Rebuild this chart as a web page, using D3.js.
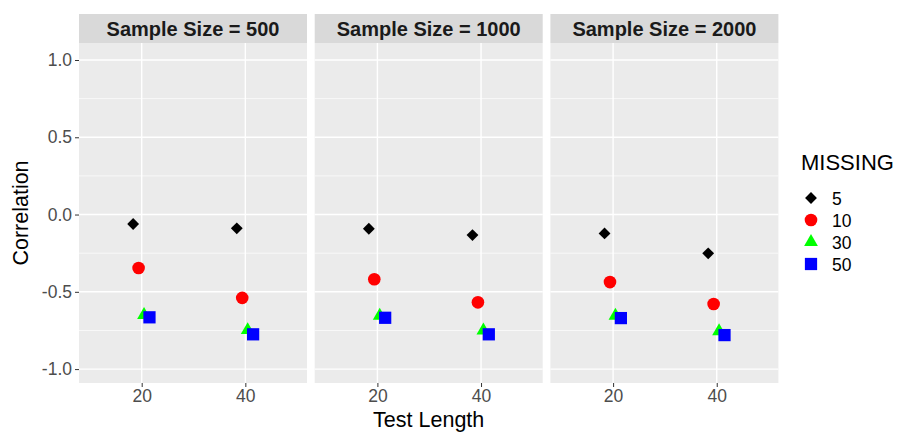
<!DOCTYPE html>
<html>
<head>
<meta charset="utf-8">
<script src="https://cdn.jsdelivr.net/npm/d3@7"></script>
<style>
  html, body { margin: 0; padding: 0; background: #ffffff; }
  svg { display: block; }
  text { font-family: "Liberation Sans", Arial, sans-serif; }
</style>
</head>
<body>
<svg id="chart" width="897" height="433"></svg>
<script>
// ---- data ----
const sampleSizes = [500, 1000, 2000];
const testLengths = [20, 40];
const missingLevels = ["5", "10", "30", "50"];
// values ordered: (500,20), (500,40), (1000,20), (1000,40), (2000,20), (2000,40)
const missing5  = [-0.061, -0.089, -0.092, -0.133, -0.122, -0.251];
const missing10 = [-0.346, -0.539, -0.419, -0.568, -0.437, -0.579];
const missing30 = [-0.650, -0.748, -0.655, -0.750, -0.655, -0.755];
const missing50 = [-0.665, -0.775, -0.668, -0.775, -0.670, -0.780];
const yTicks = [-1.0, -0.5, 0.0, 0.5, 1.0];
const yMinor = [-0.75, -0.25, 0.25, 0.75];
const xTicks = [20, 40];

const seriesValues = [missing5, missing10, missing30, missing50];
const colors = ["#000000", "#ff0000", "#00ff00", "#0000ff"];

// build rows
const rows = [];
missingLevels.forEach((m, si) => {
  sampleSizes.forEach((s, pi) => {
    testLengths.forEach((t, ti) => {
      rows.push({ miss: m, si, sample: s, test: t, value: seriesValues[si][pi * testLengths.length + ti] });
    });
  });
});

// ---- layout ----
const svg = d3.select("#chart");
const panelLeft0 = 79, panelWidth = 228, panelGap = 7.7;
const stripTop = 14, stripH = 29;
const panelTop = stripTop + stripH, panelBottom = 383;

const y = d3.scaleLinear().domain([-1.09, 1.11]).range([panelBottom, panelTop]);
const x = d3.scaleLinear().domain([7.9, 51.9]).range([0, panelWidth]);
const dodge = d3.scalePoint().domain(missingLevels).range([-1.65, 1.5]);

const symbolGen = {
  "5": d3.symbol().type(d3.symbolSquare).size(70),
  "10": d3.symbol().type(d3.symbolCircle).size(125),
  "30": d3.symbol().type(d3.symbolTriangle).size(82),
  "50": d3.symbol().type(d3.symbolSquare).size(150)
};
const rot = { "5": 45, "10": 0, "30": 0, "50": 0 };
const fmtY = d => d3.format(".1f")(d).replace("\u2212", "-");

sampleSizes.forEach((s, pi) => {
  const px = panelLeft0 + pi * (panelWidth + panelGap);
  const g = svg.append("g").attr("transform", `translate(${px},0)`);

  // strip
  g.append("rect").attr("x", 0).attr("y", stripTop).attr("width", panelWidth).attr("height", stripH)
    .attr("fill", "#d9d9d9");
  g.append("text").attr("x", panelWidth / 2).attr("y", stripTop + stripH / 2 + 7)
    .attr("text-anchor", "middle").attr("font-size", 20).attr("font-weight", "bold")
    .attr("fill", "#1a1a1a").text(`Sample Size = ${s}`);

  // panel background
  g.append("rect").attr("x", 0).attr("y", panelTop).attr("width", panelWidth)
    .attr("height", panelBottom - panelTop).attr("fill", "#ebebeb");

  // grid
  g.selectAll(".ymin").data(yMinor).join("line")
    .attr("x1", 0).attr("x2", panelWidth).attr("y1", d => y(d)).attr("y2", d => y(d))
    .attr("stroke", "#ffffff").attr("stroke-width", 0.7);
  g.selectAll(".ymaj").data(yTicks).join("line")
    .attr("x1", 0).attr("x2", panelWidth).attr("y1", d => y(d)).attr("y2", d => y(d))
    .attr("stroke", "#ffffff").attr("stroke-width", 1.4);
  g.selectAll(".xmaj").data(xTicks).join("line")
    .attr("x1", d => x(d)).attr("x2", d => x(d)).attr("y1", panelTop).attr("y2", panelBottom)
    .attr("stroke", "#ffffff").attr("stroke-width", 1.4);

  // x axis
  const xAxis = d3.axisBottom(x).tickValues(xTicks).tickSize(4).tickPadding(3).tickFormat(d3.format("d"));
  const xg = g.append("g").attr("transform", `translate(0,${panelBottom})`).call(xAxis);
  xg.select(".domain").remove();
  xg.selectAll(".tick line").attr("stroke", "#333333").attr("stroke-width", 1);
  xg.selectAll(".tick text").attr("font-size", 17.5).attr("fill", "#4d4d4d")
    .attr("font-family", "Liberation Sans, Arial, sans-serif");

  // y axis on first panel
  if (pi === 0) {
    const yAxis = d3.axisLeft(y).tickValues(yTicks).tickSize(4).tickPadding(3).tickFormat(fmtY);
    const yg = g.append("g").call(yAxis);
    yg.select(".domain").remove();
    yg.selectAll(".tick line").attr("stroke", "#333333").attr("stroke-width", 1);
    yg.selectAll(".tick text").attr("font-size", 17.5).attr("fill", "#4d4d4d")
      .attr("font-family", "Liberation Sans, Arial, sans-serif");
  }

  // points
  missingLevels.forEach((m, si) => {
    g.selectAll(null).data(rows.filter(r => r.sample === s && r.miss === m)).join("path")
      .attr("d", symbolGen[m]())
      .attr("transform", d => `translate(${x(d.test + dodge(d.miss))},${y(d.value)}) rotate(${rot[m]})`)
      .attr("fill", colors[si]);
  });
});

// axis titles
const plotCenterX = (panelLeft0 + panelLeft0 + 3 * panelWidth + 2 * panelGap) / 2;
svg.append("text").attr("x", plotCenterX).attr("y", 427).attr("text-anchor", "middle")
  .attr("font-size", 21.5).attr("fill", "#000").text("Test Length");
svg.append("text").attr("transform", `translate(28,${(panelTop + panelBottom) / 2}) rotate(-90)`)
  .attr("text-anchor", "middle").attr("font-size", 21.5).attr("fill", "#000").text("Correlation");

// legend
const lg = svg.append("g").attr("transform", "translate(801,0)");
lg.append("text").attr("x", 0).attr("y", 170).attr("font-size", 22).attr("fill", "#000").text("MISSING");
missingLevels.forEach((m, si) => {
  const cy = 198 + si * 22;
  lg.append("path").attr("d", symbolGen[m]())
    .attr("transform", `translate(10,${cy}) rotate(${rot[m]})`).attr("fill", colors[si]);
  lg.append("text").attr("x", 31).attr("y", cy + 6.5).attr("font-size", 17.5).attr("fill", "#000").text(m);
});
</script>
</body>
</html>
